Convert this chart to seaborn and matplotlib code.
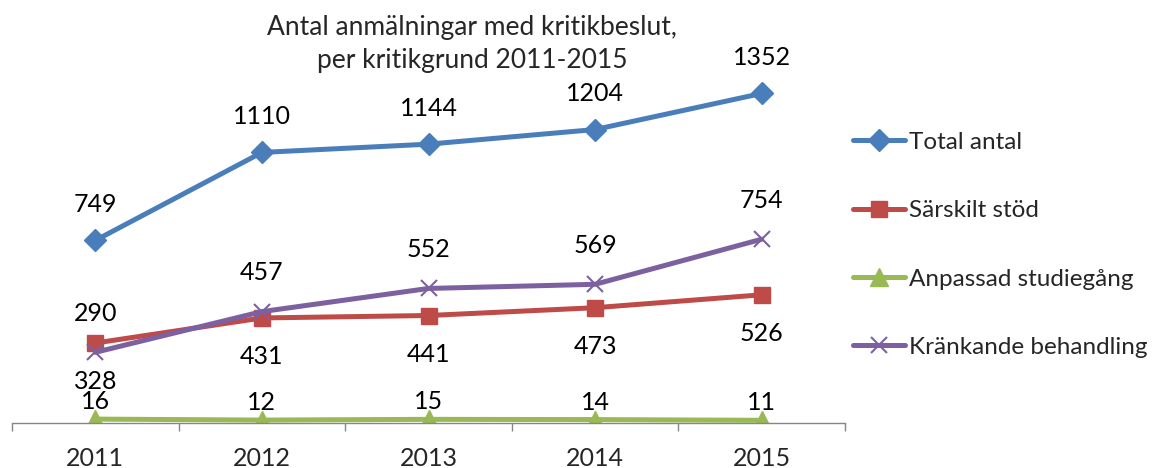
import matplotlib
matplotlib.use("Agg")
import matplotlib.pyplot as plt
import seaborn as sns
import numpy as np
from matplotlib.ticker import FixedLocator

years = ["2011", "2012", "2013", "2014", "2015"]
total_antal = [749, 1110, 1144, 1204, 1352]
sarskilt_stod = [328, 431, 441, 473, 526]
anpassad_studiegang = [16, 12, 15, 14, 11]
krankande_behandling = [290, 457, 552, 569, 754]

series_names = ["Total antal", "Särskilt stöd", "Anpassad studiegång", "Kränkande behandling"]
title = "Antal anmälningar med kritikbeslut,\nper kritikgrund 2011-2015"

sns.set_theme(style="white")
plt.rcParams['font.family'] = ['Lato', 'DejaVu Sans']
FS = 18

fig = plt.figure(figsize=(11.56, 4.68), dpi=100)
ax = fig.add_axes([12/1156, 1-423/468, (845-12)/1156, (423-33)/468])

styles = [
    (total_antal, "#4A7EBB", "D", 11, 26),
    (sarskilt_stod, "#BE4B48", "s", 12, -28),
    (anpassad_studiegang, "#98B954", "^", 13, 12.5),
    (krankande_behandling, "#7D60A0", "x", 12, 28),
]
x = np.arange(len(years))
for (vals, col, mk, ms, off), name in zip(styles, series_names):
    sns.lineplot(x=x, y=vals, ax=ax, color=col, linewidth=3.6, marker=mk,
                 markersize=ms, markeredgecolor=col, markerfacecolor=col,
                 markeredgewidth=1.5 if mk == "x" else 1, label=name)
    for xi, v in zip(x, vals):
        ax.annotate(str(v), (xi, v), xytext=(0, off), textcoords="offset points",
                    ha="center", va="center", fontsize=FS, color="black")

ax.set_xlim(-0.5, 4.5)
ax.set_ylim(0, 1600)
ax.set_yticks([])
ax.set_xticks(x)
ax.set_xticklabels(years, fontsize=FS)
ax.xaxis.set_minor_locator(FixedLocator(np.arange(-0.5, 5, 1)))
ax.tick_params(axis="x", which="major", length=0, pad=17)
ax.tick_params(axis="x", which="minor", length=6, width=1, color="#868686", direction="out", bottom=True)
for s in ["top", "right", "left"]:
    ax.spines[s].set_visible(False)
ax.spines["bottom"].set_color("#868686")
ax.spines["bottom"].set_linewidth(1)
ax.set_xlabel("")
ax.set_ylabel("")

leg = ax.legend(loc="upper left", bbox_to_anchor=(843/1156, 1-122/468), bbox_transform=fig.transFigure,
                frameon=False, fontsize=17.5, handlelength=2.15, handletextpad=0.15,
                labelspacing=1.95, borderaxespad=0)

fig.text(472/1156, 1-44/468, title, ha="center", va="center", fontsize=19, linespacing=1.4)

fig.savefig("out.png", dpi=100)
